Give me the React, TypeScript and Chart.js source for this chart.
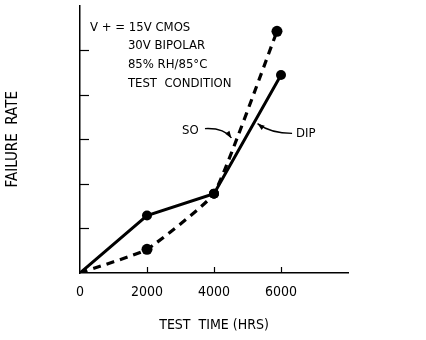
import React, { useEffect, useRef } from 'react';
import { Chart, registerables } from 'chart.js';

Chart.register(...registerables);

// ---- data ----
const dipHours = [0, 2000, 4000, 6000];
const dipRate = [0, 1.29, 1.78, 4.44];
const soHours = [0, 2000, 4000, 5880];
const soRate = [0, 0.53, 1.78, 5.42];
const xTickValues = [0, 2000, 4000, 6000, 8000];
const yTickValues = [1, 2, 3, 4, 5];
const conditionLines = ['V + = 15V CMOS', '30V BIPOLAR', '85% RH/85°C', 'TEST  CONDITION'];
const xTitle = 'TEST  TIME (HRS)';
const yTitle = 'FAILURE  RATE';
const soLabel = 'SO';
const dipLabel = 'DIP';

const COND = '"DejaVu Sans Condensed", "DejaVu Sans", sans-serif';

function arrow(ctx: CanvasRenderingContext2D, pts: number[][]) {
  const [s, c, e] = pts;
  ctx.beginPath();
  ctx.moveTo(s[0], s[1]);
  ctx.quadraticCurveTo(c[0], c[1], e[0], e[1]);
  ctx.stroke();
  const ang = Math.atan2(e[1] - c[1], e[0] - c[0]);
  const L = 7, W = 2.6;
  ctx.beginPath();
  ctx.moveTo(e[0], e[1]);
  ctx.lineTo(e[0] - L * Math.cos(ang) + W * Math.sin(ang), e[1] - L * Math.sin(ang) - W * Math.cos(ang));
  ctx.lineTo(e[0] - L * Math.cos(ang) - W * Math.sin(ang), e[1] - L * Math.sin(ang) + W * Math.cos(ang));
  ctx.closePath();
  ctx.fill();
}

const annotPlugin = {
  id: 'annot',
  afterDraw(chart: any) {
    const { ctx, scales, chartArea } = chart;
    const x = scales.x, y = scales.y;
    const px = (v: number) => x.getPixelForValue(v);
    const py = (v: number) => y.getPixelForValue(v);
    ctx.save();
    ctx.strokeStyle = '#000';
    ctx.fillStyle = '#000';
    ctx.lineWidth = 1.2;
    // inward tick marks
    yTickValues.forEach((v) => {
      const yy = Math.round(py(v)) + 0.5;
      ctx.beginPath();
      ctx.moveTo(chartArea.left, yy);
      ctx.lineTo(chartArea.left + 9, yy);
      ctx.stroke();
    });
    xTickValues.slice(1, 4).forEach((v) => {
      const xx = Math.round(px(v)) + 0.5;
      ctx.beginPath();
      ctx.moveTo(xx, chartArea.bottom);
      ctx.lineTo(xx, chartArea.bottom - 6);
      ctx.stroke();
    });

    // condition text
    ctx.textBaseline = 'middle';
    ctx.textAlign = 'left';
    ctx.font = '13px ' + COND;
    const condX = [300, 1430, 1430, 1430];
    const condY = [5.51, 5.11, 4.67, 4.24];
    conditionLines.forEach((t, i) => ctx.fillText(t, px(condX[i]), py(condY[i])));

    // SO / DIP labels with arrows
    ctx.fillText(soLabel, px(3045), py(3.2));
    ctx.fillText(dipLabel, px(6448), py(3.13));
    ctx.lineWidth = 1.3;
    arrow(ctx, [
      [px(3730), py(3.24)],
      [px(4300), py(3.26)],
      [px(4520), py(3.03)],
    ]);
    arrow(ctx, [
      [px(6330), py(3.13)],
      [px(5700), py(3.13)],
      [px(5300), py(3.35)],
    ]);

    // axis titles
    ctx.font = '14px ' + COND;
    ctx.textAlign = 'center';
    ctx.fillText(xTitle, (chartArea.left + chartArea.right) / 2, 325);
    ctx.font = '15px ' + COND;
    ctx.translate(13, (chartArea.top + chartArea.bottom) / 2);
    ctx.rotate(-Math.PI / 2);
    ctx.fillText(yTitle, 0, 0);
    ctx.restore();
  },
};

export default function App() {
  const ref = useRef<HTMLCanvasElement | null>(null);
  useEffect(() => {
    document.body.style.margin = '0';
    const canvas = ref.current;
    if (!canvas) return;
    const chart = new Chart(canvas, {
      type: 'line',
      data: {
        datasets: [
          {
            label: 'DIP',
            data: dipHours.map((h, i) => ({ x: h, y: dipRate[i] })),
            borderColor: '#000',
            backgroundColor: '#000',
            borderWidth: 3,
            pointRadius: [0, 5, 5, 5],
            pointBorderWidth: 0,
            pointBackgroundColor: '#000',
            tension: 0,
          },
          {
            label: 'SO',
            data: soHours.map((h, i) => ({ x: h, y: soRate[i] })),
            borderColor: '#000',
            backgroundColor: '#000',
            borderWidth: 3.2,
            borderDash: [8, 6],
            pointRadius: [0, 5.5, 5, 5.5],
            pointBorderWidth: 0,
            pointBackgroundColor: '#000',
            tension: 0.12,
          },
        ],
      },
      options: {
        animation: false,
        responsive: false,
        events: [],
        layout: { padding: { top: 3, right: 78, left: 0, bottom: 0 } },
        plugins: { legend: { display: false }, tooltip: { enabled: false }, title: { display: false } },
        scales: {
          x: {
            type: 'linear',
            min: 0,
            max: 8000,
            afterBuildTicks: (s: any) => {
              s.ticks = xTickValues.map((v) => ({ value: v }));
            },
            afterFit: (s: any) => {
              s.height = 67;
            },
            ticks: {
              color: '#000',
              font: { family: COND, size: 14 },
              padding: 11,
              maxRotation: 0,
              autoSkip: false,
              callback: (v: any) => (v === 8000 ? '' : String(v)),
            },
            grid: { display: false, drawTicks: false },
            border: { display: true, color: '#000', width: 1.5 },
          },
          y: {
            type: 'linear',
            min: 0,
            max: 6,
            afterFit: (s: any) => {
              s.width = 80;
            },
            ticks: { display: false },
            grid: { display: false, drawTicks: false },
            border: { display: true, color: '#000', width: 1.5 },
          },
        },
      },
      plugins: [annotPlugin],
    } as any);
    return () => chart.destroy();
  }, []);
  return <canvas ref={ref} width={426} height={340} style={{ display: 'block' }} />;
}
